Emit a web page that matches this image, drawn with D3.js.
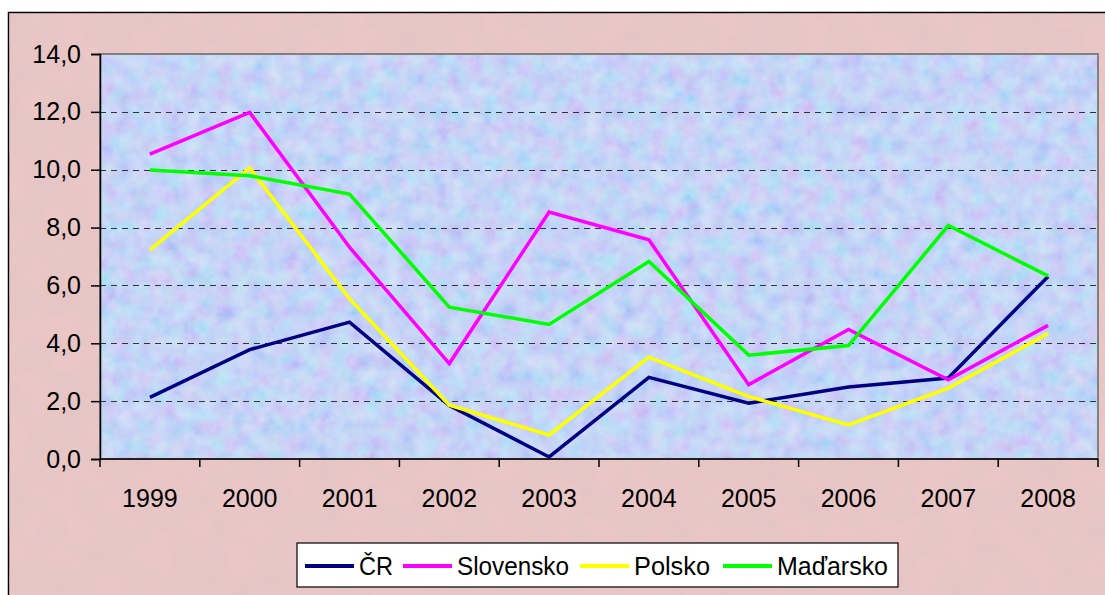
<!DOCTYPE html>
<html>
<head>
<meta charset="utf-8">
<script src="https://cdn.jsdelivr.net/npm/d3@7"></script>
<style>
  body { margin: 0; background: #fff; }
  svg { display: block; font-family: "Liberation Sans", Arial, sans-serif; }
</style>
</head>
<body>
<svg id="chart"></svg>
<script>
// data
const years = ["1999", "2000", "2001", "2002", "2003", "2004", "2005", "2006", "2007", "2008"];
const seriesNames = ["ČR", "Slovensko", "Polsko", "Maďarsko"];
const seriesColors = ["#000080", "#ff00ff", "#ffff00", "#00ff00"];
const cr        = [2.13, 3.78, 4.73, 1.85, 0.07, 2.82, 1.93, 2.49, 2.80, 6.31];
const slovensko = [10.54, 11.98, 7.32, 3.30, 8.54, 7.58, 2.57, 4.48, 2.74, 4.62];
const polsko    = [7.23, 10.06, 5.54, 1.86, 0.83, 3.52, 2.16, 1.18, 2.45, 4.34];
const madarsko  = [9.99, 9.79, 9.16, 5.25, 4.65, 6.83, 3.59, 3.92, 8.07, 6.33];
const yTicks = [0, 2, 4, 6, 8, 10, 12, 14];

const seriesValues = [cr, slovensko, polsko, madarsko];

const W = 1105, H = 595;
const margin = { top: 54, right: 7, bottom: 136, left: 100 };
const width = W - margin.left - margin.right;
const height = H - margin.top - margin.bottom;

const svg = d3.select('#chart').attr('width', W).attr('height', H);

// textures
const defs = svg.append('defs');
const f1 = defs.append('filter').attr('id', 'noisePink').attr('x', 0).attr('y', 0).attr('width', '100%').attr('height', '100%');
f1.append('feTurbulence').attr('type', 'fractalNoise').attr('baseFrequency', 0.035).attr('numOctaves', 3).attr('seed', 3).attr('result', 'n');
f1.append('feColorMatrix').attr('in', 'n').attr('type', 'matrix')
  .attr('values', '0 0 0 0 0.72  0 0 0 0 0.55  0 0 0 0 0.55  0 0 0 0.9 -0.25');
const f2 = defs.append('filter').attr('id', 'noiseBlue').attr('x', 0).attr('y', 0).attr('width', '100%').attr('height', '100%');
f2.append('feTurbulence').attr('type', 'fractalNoise').attr('baseFrequency', 0.06).attr('numOctaves', 3).attr('seed', 7).attr('result', 'n');
f2.append('feColorMatrix').attr('in', 'n').attr('type', 'matrix')
  .attr('values', '1.2 0 0 0 -0.1  0 1.1 0 0 0  0 0 0.3 0 0.75  0 0 0 0 0.45');

// outer chart area
svg.append('rect').attr('x', 8.5).attr('y', 12.5).attr('width', W).attr('height', H)
  .attr('fill', '#ebc6c6').attr('stroke', '#000').attr('stroke-width', 1.5);
svg.append('rect').attr('x', 9).attr('y', 13).attr('width', W).attr('height', H)
  .attr('fill', '#fff').attr('filter', 'url(#noisePink)');

const chart = svg.append('g').attr('transform', `translate(${margin.left},${margin.top})`);

const xScale = d3.scaleBand().domain(years).range([0, width]);
const xPos = d => xScale(d) + xScale.bandwidth() / 2;
const yScale = d3.scaleLinear().domain([0, 14]).range([height, 0]);

// plot area
chart.append('rect').attr('width', width).attr('height', height).attr('fill', '#cadcf8');
chart.append('rect').attr('width', width).attr('height', height).attr('fill', '#fff')
  .attr('filter', 'url(#noiseBlue)').attr('opacity', 0.65);

// gridlines
chart.append('g').selectAll('line')
  .data(yTicks.filter(d => d > 0 && d < 14))
  .join('line')
  .attr('x1', 0).attr('x2', width)
  .attr('y1', d => Math.round(yScale(d)) + 0.5).attr('y2', d => Math.round(yScale(d)) + 0.5)
  .attr('stroke', '#333').attr('stroke-width', 1).attr('stroke-dasharray', '6,5');

chart.append('rect').attr('x', 0).attr('y', 0).attr('width', width).attr('height', height)
  .attr('fill', 'none').attr('stroke', '#808080').attr('stroke-width', 2);

// y axis
const yAxis = d3.axisLeft(yScale).tickValues(yTicks).tickSize(9).tickPadding(10)
  .tickFormat(d => d3.format('.1f')(d).replace('.', ','));
const yAxisG = chart.append('g').call(yAxis);
yAxisG.select('.domain').attr('stroke', '#000').attr('stroke-width', 1.5);
yAxisG.selectAll('.tick line').attr('stroke', '#000').attr('stroke-width', 1.5);
yAxisG.selectAll('.tick text').attr('font-size', 25).attr('fill', '#000')
  .attr('font-family', '"Liberation Sans", Arial, sans-serif');

// x axis: ticks between categories
const xAxisG = chart.append('g').attr('transform', `translate(0,${height})`);
xAxisG.append('line').attr('x1', 0).attr('x2', width).attr('stroke', '#000').attr('stroke-width', 1.5);
const boundaries = years.map(d => xScale(d)).concat([width]);
xAxisG.selectAll('.xt').data(boundaries).join('line').attr('class', 'xt')
  .attr('x1', d => d).attr('x2', d => d).attr('y1', 0).attr('y2', 8)
  .attr('stroke', '#000').attr('stroke-width', 1.5);
xAxisG.selectAll('.xl').data(years).join('text').attr('class', 'xl')
  .attr('x', d => xPos(d)).attr('y', 48)
  .attr('text-anchor', 'middle').attr('font-size', 25).attr('fill', '#000')
  .text(d => d);

// lines
const line = d3.line().x((d, i) => xPos(years[i])).y(d => yScale(d));
seriesValues.forEach((vals, i) => {
  chart.append('path').datum(vals)
    .attr('fill', 'none').attr('stroke', seriesColors[i]).attr('stroke-width', 3.5)
    .attr('stroke-linejoin', 'miter').attr('d', line);
});

// legend
const legend = svg.append('g').attr('transform', 'translate(297,543)');
legend.append('rect').attr('width', 601).attr('height', 44)
  .attr('fill', '#fff').attr('stroke', '#000').attr('stroke-width', 1.2);
const legendX = [8, 106, 283, 426];
const legendTextW = [34, 112, 76, 111];
seriesNames.forEach((name, i) => {
  const g = legend.append('g').attr('transform', `translate(${legendX[i]},0)`);
  g.append('line').attr('x1', 0).attr('x2', 49).attr('y1', 23).attr('y2', 23)
    .attr('stroke', seriesColors[i]).attr('stroke-width', 4);
  g.append('text').attr('x', 54).attr('y', 32).attr('font-size', 26)
    .attr('textLength', legendTextW[i]).attr('lengthAdjust', 'spacingAndGlyphs')
    .attr('fill', '#000').text(name);
});
</script>
</body>
</html>
